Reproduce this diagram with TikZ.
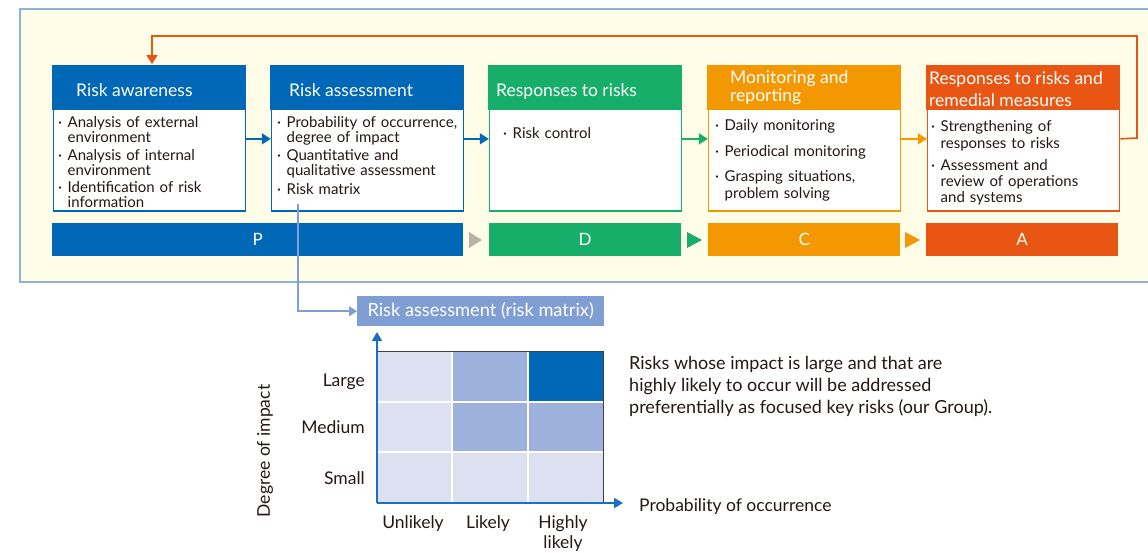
\documentclass[tikz,border=0pt]{standalone}
\usepackage{fontspec}
\setmainfont{Lato}
\usetikzlibrary{arrows.meta}
\definecolor{cBlue}{HTML}{0068B7}
\definecolor{cGreen}{HTML}{16AE68}
\definecolor{cOrange}{HTML}{F39800}
\definecolor{cRed}{HTML}{E95513}
\definecolor{cPanel}{HTML}{FFFDE8}
\definecolor{cPanelLine}{HTML}{8EB3D8}
\definecolor{cGrayTri}{HTML}{B4B3A6}
\definecolor{cMat}{HTML}{7F9FD4}
\definecolor{cLight}{HTML}{DCE0F1}
\definecolor{cMid}{HTML}{9EB1DC}
\definecolor{cAxis}{HTML}{1B6EC2}
\definecolor{cText}{HTML}{231815}
\newcommand{\bu}{\makebox[9.5pt][l]{·}}
\newcommand{\ii}{\makebox[9.5pt]{}}
\begin{document}
\begin{tikzpicture}[x=1pt,y=-1pt,
  frame/.style={draw=#1, line width=1.6pt, fill=white, anchor=north west, minimum width=192pt, minimum height=144.5pt, inner sep=0pt},
  head/.style={fill=#1, anchor=north west, minimum width=193.6pt, minimum height=45pt, inner sep=0pt},
  title/.style={anchor=base west, inner sep=0pt, text=white, font=\fontsize{17.5}{19}\selectfont, align=left},
  body/.style={anchor=base west, inner sep=0pt, text=cText, text width=190pt, font=\fontsize{15}{15}\selectfont, align=left},
  bar/.style={fill=#1, anchor=north west, minimum height=33pt, inner sep=0pt, text=white, font=\fontsize{17}{18}\selectfont},
  flow/.style={draw=#1, line width=1.6pt, -{Triangle[length=9pt,width=11pt]}},
  lbl/.style={inner sep=0pt, text=cText, font=\fontsize{17.5}{20}\selectfont},
]
\useasboundingbox (0,0) rectangle (1148,552);
% panel
\draw[fill=cPanel, draw=cPanelLine, line width=1.2pt] (20,9) rectangle (1170,282);

% boxes
\node[frame=cBlue]   (b1) at (52.8,65.8) {};
\node[frame=cBlue]   (b2) at (270.8,65.8) {};
\node[frame=cGreen]  (b3) at (488.8,65.8) {};
\node[frame=cOrange] (b4) at (707.8,65.8) {};
\node[frame=cRed]    (b5) at (926.8,65.8) {};
\node[head=cBlue]   (h1) at (52,65) {};
\node[head=cBlue]   (h2) at (270,65) {};
\node[head=cGreen]  (h3) at (488,65) {};
\node[head=cOrange] (h4) at (707,65) {};
\node[head=cRed]    (h5) at (926,65) {};

\node[title] (t1) at (76,96) {Risk awareness};
\node[title] (t2) at (289,96) {Risk assessment};
\node[title] (t3) at (496,96) {Responses to risks};
\node[title] (t4) at (730,101) {Monitoring and\\[-1pt]reporting};
\node[title] (t5) at (929,106) {Responses to risks and\\[3pt]remedial measures};

\node[body] (x1) at (58,127) {\bu Analysis of external\\\ii environment\\[3pt]\bu Analysis of internal\\\ii environment\\[2pt]\bu Identification of risk\\\ii information};
\node[body] (x2) at (277,127) {\bu Probability of occurrence,\\\ii degree of impact\\[3pt]\bu Quantitative and\\\ii qualitative assessment\\[4pt]\bu Risk matrix};
\node[body] (x3) at (503,138) {\bu Risk control};
\node[body] (x4) at (715,130) {\bu Daily monitoring\\[11pt]\bu Periodical monitoring\\[10pt]\bu Grasping situations,\\[2pt]\ii problem solving};
\node[body] (x5) at (931,131) {\bu Strengthening of\\[2pt]\ii responses to risks\\[7pt]\bu Assessment and\\[1pt]\ii review of operations\\[1pt]\ii and systems};

% flow arrows
\draw[flow=cBlue]   (b1.east) -- (b2.west);
\draw[flow=cBlue]   (b2.east) -- (b3.west);
\draw[flow=cGreen]  (b3.east) -- (b4.west);
\draw[flow=cOrange] (b4.east) -- (b5.west);
\coordinate (fb) at (152,64);
\draw[flow=cRed] (b5.east) -- (1137,138) -- (1137,36) -- (152,36) -- (fb);

% PDCA bars
\node[bar=cBlue,   minimum width=411pt] (P) at (52,223) {P};
\node[bar=cGreen,  minimum width=192pt] (D) at (489,223) {D};
\node[bar=cOrange, minimum width=192pt] (C) at (708,223) {C};
\node[bar=cRed,    minimum width=192pt] (A) at (926,223) {A};
\fill[cGrayTri] (469,232) -- (482,240) -- (469,248) -- cycle;
\fill[cGreen] (687,232) -- (702,240) -- (687,248) -- cycle;
\fill[cOrange] (905,232) -- (920,240) -- (905,248) -- cycle;

% risk matrix header
\node[fill=cMat, anchor=north west, minimum width=247pt, minimum height=30pt, inner sep=0pt, text=white, font=\fontsize{18.2}{20}\selectfont] (mh) at (357,296) {Risk assessment (risk matrix)};
\coordinate (rm0) at (298,204);
\draw[draw=cMat, line width=1.6pt, -{Triangle[length=8pt,width=10pt]}] (rm0) |- (mh.west);

% matrix cells
\fill[cLight] (377,351) rectangle (603,503);
\fill[cMid] (452,351) rectangle (528,452);
\fill[cMid] (528,402) rectangle (603,452);
\fill[cBlue] (528,351) rectangle (603,402);
\draw[white, line width=1.2pt] (452,351) -- (452,503) (528,351) -- (528,503) (377,402) -- (603,402) (377,452) -- (603,452);
\draw[black!75, line width=0.8pt] (377,351) -- (603,351) -- (603,503);
\coordinate (O) at (377,503);
\coordinate (ytop) at (377,332);
\coordinate (xend) at (623,503);
\draw[draw=cAxis, line width=1.8pt, -{Triangle[length=9pt,width=10pt]}] (O) -- (ytop);
\draw[draw=cAxis, line width=1.8pt, -{Triangle[length=9pt,width=10pt]}] (O) -- (xend);

% labels
\node[lbl, anchor=base east] (lL) at (365,386) {Large};
\node[lbl, anchor=base east] (lM) at (365,433) {Medium};
\node[lbl, anchor=base east] (lS) at (365,484) {Small};
\node[lbl, rotate=90] (ld) at (265,451) {Degree of impact};
\node[lbl, anchor=base] (c1) at (413,528) {Unlikely};
\node[lbl, anchor=base] (c2) at (488,528) {Likely};
\node[lbl, anchor=base, align=center] (c3) at (563,548) {Highly\\likely};
\node[lbl, anchor=base west] (po) at (639,511) {Probability of occurrence};
\node[lbl, anchor=base west, align=left, font=\fontsize{18}{22}\selectfont] (par) at (629,413) {Risks whose impact is large and that are\\highly likely to occur will be addressed\\preferentially as focused key risks (our Group).};
\end{tikzpicture}
\end{document}
